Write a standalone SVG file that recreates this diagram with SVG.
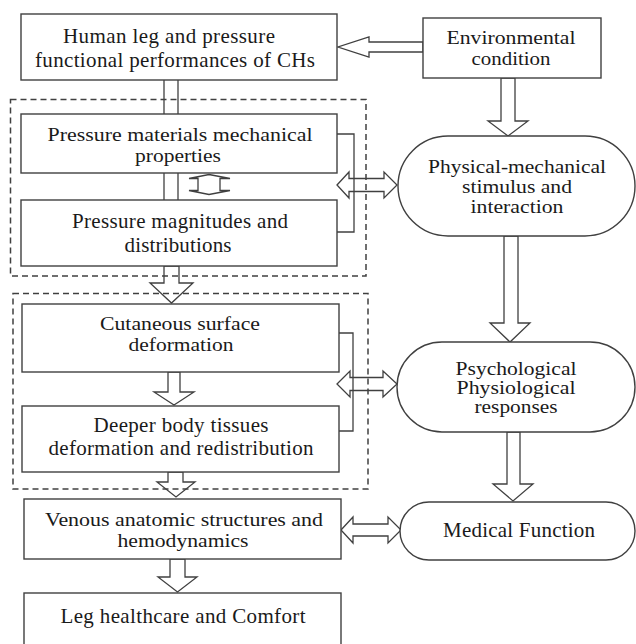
<svg xmlns="http://www.w3.org/2000/svg" width="636" height="644" viewBox="0 0 636 644">
<style>
.box{fill:#fff;stroke:#404040;stroke-width:1.4}
.arr{fill:#fff;stroke:#404040;stroke-width:1.3;stroke-linejoin:miter}
.ln{fill:none;stroke:#404040;stroke-width:1.3}
.dash{fill:none;stroke:#404040;stroke-width:1.5;stroke-dasharray:6 4}
.t{font-family:'Liberation Serif','DejaVu Serif',serif;font-size:21px;fill:#1a1a1a;text-anchor:middle}
.s{font-size:19px}
</style>
<rect width="636" height="644" fill="#fff"/>
<g id="connectors">
<line class="ln" x1="164" y1="80" x2="164" y2="114"/>
<line class="ln" x1="178" y1="80" x2="178" y2="114"/>
<line class="ln" x1="164" y1="173" x2="164" y2="200"/>
<line class="ln" x1="178" y1="173" x2="178" y2="200"/>
<polygon class="arr" points="209,174.5 230,178.5 220,178.5 220,190.5 230,190.5 209,194.5 189,190.5 198,190.5 198,178.5 189,178.5"/>
<polygon class="arr" points="423,42 369,42 369,37 338,47 369,57 369,52 423,52"/>
<polygon class="arr" points="501,78 501,121 488,121 508,136 528,121 515,121 515,78"/>
<polygon class="arr" points="504,236 504,323 490,323 510,342 530,323 518,323 518,236"/>
<polygon class="arr" points="507,432 507,484 493,484 513,501 533,484 520,484 520,432"/>
<polygon class="arr" points="164,266 164,283 150,283 171.5,303 193,283 179,283 179,266"/>
<polygon class="arr" points="168,372 168,392 154,392 174,405 194,392 180,392 180,372"/>
<polygon class="arr" points="168,472 168,482 157,482 176,497 195,482 183,482 183,472"/>
<polygon class="arr" points="170,559 170,577 158,577 177.5,592 197,577 185,577 185,559"/>
<polygon class="arr" points="337,185 349,172 349,178.5 384,178.5 384,172 397,185 384,198 384,191.5 349,191.5 349,198"/>
<polygon class="arr" points="337,384 350,371 350,377.5 383,377.5 383,371 397,384 383,397 383,390.5 350,390.5 350,397"/>
<polygon class="arr" points="341,530 353,517 353,524 388,524 388,517 401,530 388,543 388,536 353,536 353,543"/>
<polyline class="ln" points="337,134 354,134 354,232 337,232"/>
<polyline class="ln" points="339,333 353,333 353,431 339,431"/>
</g>
<g id="n1"><rect class="box" x="21" y="14" width="316" height="66"/><text class="t" x="169" y="43" textLength="212">Human leg and pressure</text><text class="t" x="175" y="67" textLength="280">functional performances of CHs</text></g>
<g id="n2"><rect class="box" x="423" y="18" width="178" height="60"/><text class="t s" x="511" y="43.5" textLength="129" lengthAdjust="spacingAndGlyphs">Environmental</text><text class="t s" x="511" y="64.5" textLength="79" lengthAdjust="spacingAndGlyphs">condition</text></g>
<g id="n3"><rect class="box" x="21" y="114" width="316" height="59"/><text class="t s" x="180" y="140.5" textLength="265" lengthAdjust="spacingAndGlyphs">Pressure materials mechanical</text><text class="t s" x="178" y="161.5" textLength="86" lengthAdjust="spacingAndGlyphs">properties</text></g>
<g id="n4"><rect class="box" x="21" y="200" width="316" height="66"/><text class="t" x="180" y="228" textLength="216">Pressure magnitudes and</text><text class="t" x="178" y="252" textLength="107">distributions</text></g>
<g id="n5"><rect class="box" x="398" y="136" width="237" height="100" rx="50"/><text class="t s" x="517" y="173" textLength="178" lengthAdjust="spacingAndGlyphs">Physical-mechanical</text><text class="t s" x="517" y="193" textLength="110" lengthAdjust="spacingAndGlyphs">stimulus and</text><text class="t s" x="517" y="213" textLength="93" lengthAdjust="spacingAndGlyphs">interaction</text></g>
<g id="n6"><rect class="box" x="22" y="304" width="317" height="68"/><text class="t s" x="180" y="329.5" textLength="160" lengthAdjust="spacingAndGlyphs">Cutaneous surface</text><text class="t s" x="181" y="350.5" textLength="105" lengthAdjust="spacingAndGlyphs">deformation</text></g>
<g id="n7"><rect class="box" x="22" y="406" width="317" height="66"/><text class="t" x="181" y="432" textLength="175">Deeper body tissues</text><text class="t" x="181" y="455" textLength="265">deformation and redistribution</text></g>
<g id="n8"><rect class="box" x="397" y="342" width="238" height="90" rx="45"/><text class="t s" x="516" y="375" textLength="121" lengthAdjust="spacingAndGlyphs">Psychological</text><text class="t s" x="516" y="394" textLength="119" lengthAdjust="spacingAndGlyphs">Physiological</text><text class="t s" x="516" y="413" textLength="83" lengthAdjust="spacingAndGlyphs">responses</text></g>
<g id="n9"><rect class="box" x="24" y="499" width="317" height="60"/><text class="t s" x="184" y="526" textLength="278" lengthAdjust="spacingAndGlyphs">Venous anatomic structures and</text><text class="t s" x="183" y="547" textLength="131" lengthAdjust="spacingAndGlyphs">hemodynamics</text></g>
<g id="n10"><rect class="box" x="400" y="502" width="235" height="58" rx="29"/><text class="t" x="519" y="537" textLength="152">Medical Function</text></g>
<g id="n11"><rect class="box" x="24" y="593" width="317" height="60"/><text class="t" x="183" y="623" textLength="245">Leg healthcare and Comfort</text></g>
<g id="groups">
<rect class="dash" x="10.5" y="99.5" width="355.5" height="176.5"/>
<rect class="dash" x="13" y="293.5" width="355" height="195.5"/>
</g>
</svg>
